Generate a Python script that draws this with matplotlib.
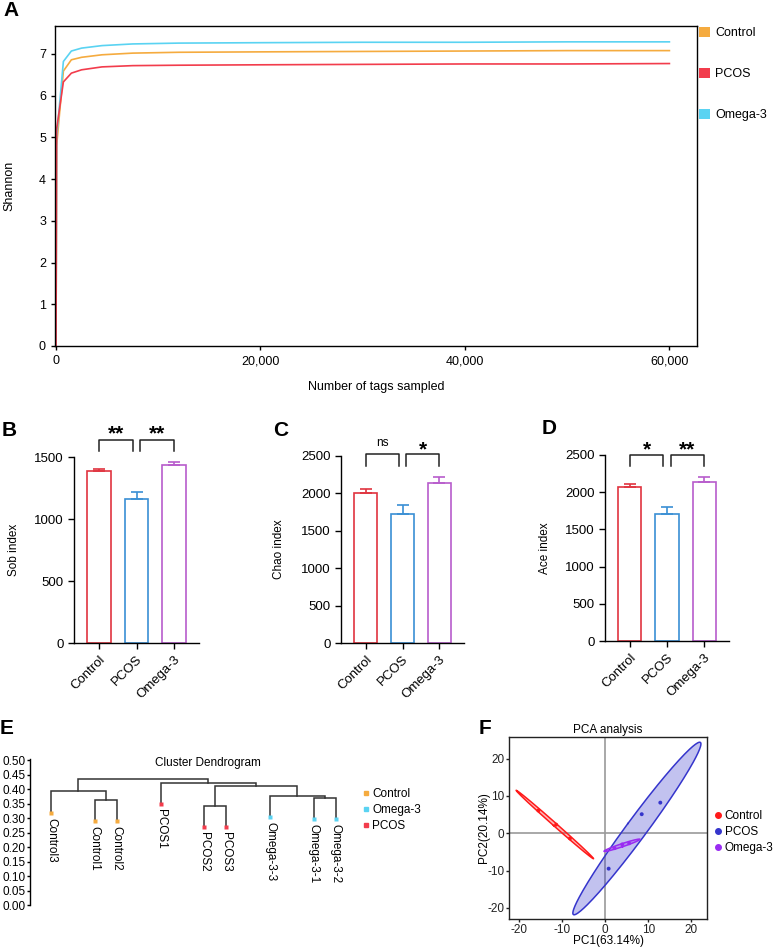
import numpy as np
import matplotlib.pyplot as plt
from matplotlib.patches import Patch
from matplotlib.lines import Line2D

plt.rcParams['font.family'] = ['Liberation Sans', 'DejaVu Sans']
plt.rcParams['axes.linewidth'] = 1.0
plt.rcParams['axes.unicode_minus'] = False

W, H = 777, 949

# ---- A: Shannon rarefaction curves
tags = [0, 60, 720, 1500, 2500, 4500, 7500, 12000, 20000, 30000, 40000, 50000, 60000]
shannon_control = [0, 4.8, 6.59, 6.86, 6.92, 6.98, 7.02, 7.04, 7.05, 7.06, 7.07, 7.08, 7.08]
shannon_pcos = [0, 5.2, 6.33, 6.54, 6.62, 6.69, 6.72, 6.73, 6.74, 6.75, 6.76, 6.76, 6.77]
shannon_omega = [0, 5.0, 6.82, 7.07, 7.14, 7.20, 7.24, 7.26, 7.27, 7.28, 7.28, 7.29, 7.29]

# ---- B-D: alpha diversity indices
groups = ['Control', 'PCOS', 'Omega-3']
sob_mean = [1385, 1160, 1432]
sob_sem = [20, 56, 30]
chao_mean = [2010, 1728, 2140]
chao_sem = [52, 116, 80]
ace_mean = [2065, 1702, 2133]
ace_sem = [50, 95, 71]
sob_sig = ['**', '**']
chao_sig = ['ns', '*']
ace_sig = ['*', '**']

# ---- E: cluster dendrogram
samples = ['Control3', 'Control1', 'Control2', 'PCOS1', 'PCOS2', 'PCOS3',
           'Omega-3-3', 'Omega-3-1', 'Omega-3-2']
sample_group = ['Control', 'Control', 'Control', 'PCOS', 'PCOS', 'PCOS',
                'Omega-3', 'Omega-3', 'Omega-3']
# (left node, right node, height); nodes 0-8 are leaves, 9+ are merges in order
merges = [(1, 2, 0.364), (0, 9, 0.393), (4, 5, 0.344), (7, 8, 0.371),
          (6, 12, 0.377), (11, 13, 0.410), (3, 14, 0.422), (10, 15, 0.437)]
hang = 0.074

# ---- F: PCA
pca_control_x = [-15.4, -11.3, -8.1]
pca_control_y = [6.1, 2.3, -1.4]
pca_pcos_x = [12.8, 8.5, 0.85]
pca_pcos_y = [8.2, 5.1, -9.5]
pca_omega_x = [2.2, 4.0, 5.6]
pca_omega_y = [-4.0, -3.0, -2.7]


def box(l, t, r, b):
    # pixel box -> figure fraction
    return [l / W, 1 - b / H, (r - l) / W, (b - t) / H]


fig = plt.figure(figsize=(W / 100, H / 100), dpi=100)

# ================= A
ax = fig.add_axes(box(55, 26, 697, 346))
colA = {'Control': '#f5ab3f', 'PCOS': '#f23c4c', 'Omega-3': '#5ad3f2'}
ax.plot(tags, shannon_control, color=colA['Control'], lw=1.2)
ax.plot(tags, shannon_omega, color=colA['Omega-3'], lw=1.2)
ax.plot(tags, shannon_pcos, color=colA['PCOS'], lw=1.2)
ax.set_xlim(-100, 62700)
ax.set_ylim(0, 7.67)
ax.set_xticks([0, 20000, 40000, 60000])
ax.set_xticklabels(['0', '20,000', '40,000', '60,000'])
ax.set_yticks(range(8))
ax.tick_params(labelsize=9, length=3, width=1.0)
ax.set_xlabel('Number of tags sampled', fontsize=9)
ax.xaxis.set_label_coords(0.5, -0.108)
ax.set_ylabel('Shannon', fontsize=9)
ax.yaxis.set_label_coords(-0.062, 0.5)
fig.legend(handles=[Patch(facecolor=colA[g], edgecolor='none', label=g) for g in groups],
           loc='upper left', bbox_to_anchor=(699 / W, 1 - 27 / H), frameon=False,
           fontsize=9, handlelength=0.85, handleheight=0.85, handletextpad=0.45,
           labelspacing=2.3, borderpad=0, borderaxespad=0)

# ================= B-D
bar_colors = ['#e0343f', '#3a8fd4', '#b85ccc']


def bar_panel(rect, means, sems, ymax, ystep, ylabel, sig, leg, top, txt, lab_x):
    ax = fig.add_axes(rect)
    x = np.arange(len(groups))
    ax.bar(x, means, width=0.62, facecolor='white', edgecolor=bar_colors,
           linewidth=1.2, zorder=2)
    for xi, m, s, c in zip(x, means, sems, bar_colors):
        ax.errorbar(xi, m, yerr=[[0], [s]], fmt='none', ecolor=c,
                    elinewidth=1.2, capsize=4.5, capthick=1.2, zorder=3)
    ax.set_xlim(-0.67, 2.67)
    ax.set_ylim(0, ymax)
    ax.set_yticks(np.arange(0, ymax + 1, ystep))
    ax.set_xticks(x)
    ax.set_xticklabels(groups, rotation=45, ha='right', rotation_mode='anchor')
    ax.spines[['top', 'right']].set_visible(False)
    ax.tick_params(labelsize=9.5, length=4, width=1.0)
    ax.set_ylabel(ylabel, fontsize=8.5)
    ax.yaxis.set_label_coords(lab_x, 0.5)
    tr = ax.get_xaxis_transform()
    for (x0, x1), s in zip([(0, 0.9), (1.1, 2)], sig):
        ax.plot([x0, x0, x1, x1], [leg, top, top, leg], color='#222222', lw=1.1,
                transform=tr, clip_on=False)
        if s == 'ns':
            ax.text((x0 + x1) / 2, txt, s, transform=tr, ha='center', va='center',
                    fontsize=8.5)
        else:
            ax.text((x0 + x1) / 2, txt - 0.035, s, transform=tr, ha='center',
                    va='center', fontsize=15, fontweight='bold')
    return ax


bar_panel(box(74, 457, 199, 643), sob_mean, sob_sem, 1500, 500, 'Sob index',
          sob_sig, 1.032, 1.093, 1.16, -0.43)
bar_panel(box(341, 456, 464, 643), chao_mean, chao_sem, 2500, 500, 'Chao index',
          chao_sig, 0.946, 1.009, 1.07, -0.455)
bar_panel(box(605, 455, 729, 641), ace_mean, ace_sem, 2500, 500, 'Ace index',
          ace_sig, 0.939, 1.0, 1.065, -0.435)

# ================= E
colE = {'Control': '#f5ab3f', 'Omega-3': '#5ad3f2', 'PCOS': '#f23c4c'}
ax = fig.add_axes(box(30, 759, 350, 905))
leaf_gap = [0, 2, 1, 2, 2, 1, 2, 2, 1]
leaf_x = list(np.cumsum(leaf_gap).astype(float))
parent_h = {}
for a, b, h in merges:
    parent_h.setdefault(a, h)
    parent_h.setdefault(b, h)
node_x = leaf_x[:]
node_y = [parent_h[i] - hang for i in range(len(samples))]
for a, b, h in merges:
    xa, ya, xb, yb = node_x[a], node_y[a], node_x[b], node_y[b]
    ax.plot([xa, xa, xb, xb], [ya, h, h, yb], color='#333333', lw=1.1,
            solid_joinstyle='miter')
    node_x.append((xa + xb) / 2)
    node_y.append(h)
for i, s in enumerate(samples):
    ax.plot(leaf_x[i], node_y[i], 's', color=colE[sample_group[i]], ms=2.5, mec='none')
    ax.annotate(s, (leaf_x[i], node_y[i]), xytext=(0, -3.5), textcoords='offset points',
                rotation=270, ha='center', va='top', fontsize=8.5)
ax.set_xlim(-0.96, 13.65)
ax.set_ylim(0, 0.505)
ax.set_yticks(np.arange(0, 0.51, 0.05))
ax.set_yticklabels([f'{v:.2f}' for v in np.arange(0, 0.51, 0.05)])
ax.set_xticks([])
ax.spines[['top', 'right', 'bottom']].set_visible(False)
ax.tick_params(labelsize=8.5, length=2.5, width=1.0, pad=1)
fig.text(208 / W, 1 - 763 / H, 'Cluster Dendrogram', ha='center', va='center', fontsize=8.5)
fig.legend(handles=[Line2D([], [], marker='s', ls='', color=colE[g], ms=3, label=g)
                    for g in ['Control', 'Omega-3', 'PCOS']],
           loc='upper left', bbox_to_anchor=(363 / W, 1 - 788 / H), frameon=False,
           fontsize=8.5, handlelength=0.5, handletextpad=0.3, labelspacing=0.35,
           borderpad=0, borderaxespad=0)

# ================= F
ax = fig.add_axes(box(509, 737, 707, 919))
colF = {'Control': '#ff1a1a', 'PCOS': '#3535cc', 'Omega-3': '#9a2cf2'}
r95 = np.sqrt(-2 * np.log(0.05))
t = np.linspace(0, 2 * np.pi, 200)
ax.axhline(0, color='#9a9a9a', lw=1.2, zorder=1)
ax.axvline(0, color='#9a9a9a', lw=1.2, zorder=1)
for g, px, py in [('PCOS', pca_pcos_x, pca_pcos_y),
                  ('Control', pca_control_x, pca_control_y),
                  ('Omega-3', pca_omega_x, pca_omega_y)]:
    pts = np.column_stack([px, py])
    mu = pts.mean(axis=0)
    vals, vecs = np.linalg.eigh(np.cov(pts.T))
    circ = np.vstack([np.cos(t), np.sin(t)]) * np.sqrt(vals)[:, None] * r95
    ell = (vecs @ circ).T + mu
    ax.fill(ell[:, 0], ell[:, 1], facecolor=colF[g], alpha=0.3, edgecolor='none', zorder=2)
    ax.plot(ell[:, 0], ell[:, 1], color=colF[g], lw=1.1, zorder=3)
    ax.scatter(px, py, s=8, color=colF[g], zorder=4, edgecolors='none')
ax.set_xlim(-22.2, 23.6)
ax.set_ylim(-23.0, 25.8)
ax.set_xticks([-20, -10, 0, 10, 20])
ax.set_yticks([-20, -10, 0, 10, 20])
ax.tick_params(labelsize=8.5, length=2.5, width=1.0, pad=1.0, colors='#222222')
for sp in ax.spines.values():
    sp.set_color('#222222')
ax.set_title('PCA analysis', fontsize=8.5, pad=3)
ax.set_xlabel('PC1(63.14%)', fontsize=8.5)
ax.xaxis.set_label_coords(0.5, -0.088)
ax.set_ylabel('PC2(20.14%)', fontsize=8.5)
ax.yaxis.set_label_coords(-0.098, 0.5)
fig.legend(handles=[Line2D([], [], marker='o', ls='', color=colF[g], ms=4, label=g)
                    for g in groups],
           loc='upper left', bbox_to_anchor=(714 / W, 1 - 810 / H), frameon=False,
           fontsize=8.5, handlelength=0.6, handletextpad=0.3, labelspacing=0.35,
           borderpad=0, borderaxespad=0)

# panel letters
for lab, px, py in [('A', 3, 11), ('B', 2, 430), ('C', 273, 430), ('D', 542, 429),
                    ('E', 0, 728), ('F', 479, 728)]:
    fig.text(px / W, 1 - py / H, lab, fontsize=15, fontweight='bold', ha='left', va='center')

fig.savefig('out.png', dpi=100)
